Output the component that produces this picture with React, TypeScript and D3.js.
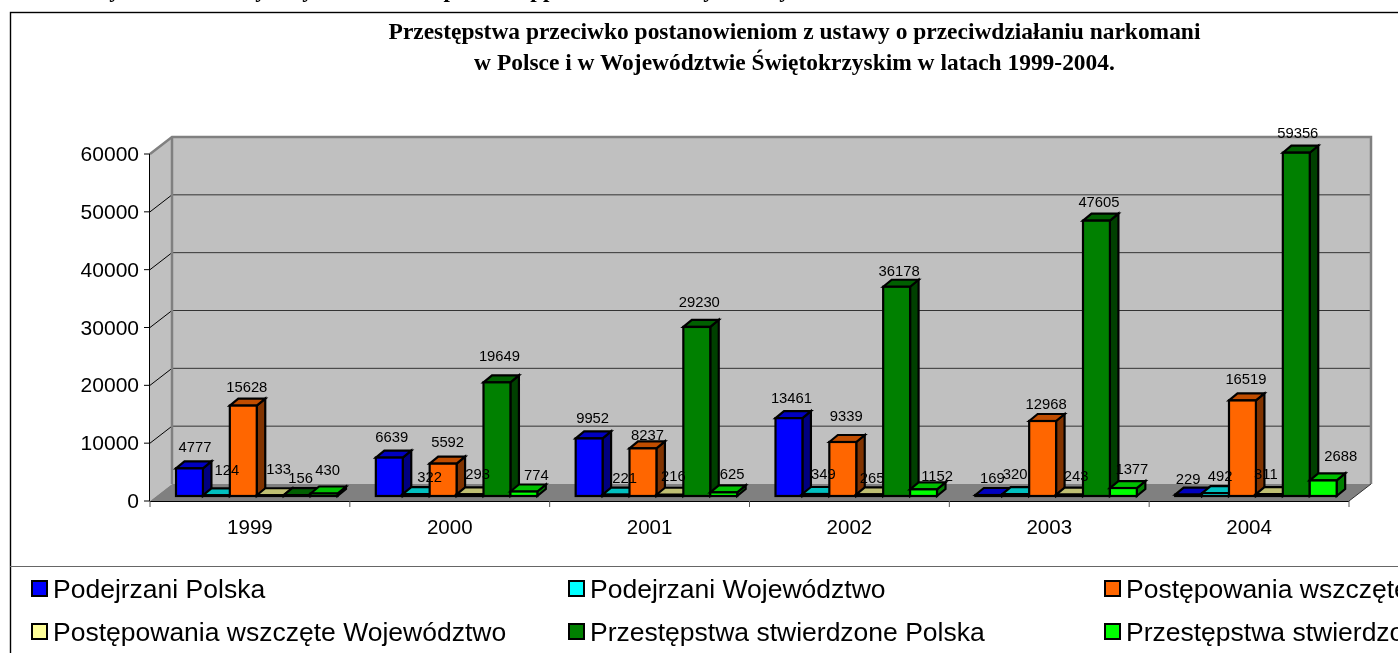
import React, { useEffect, useRef } from "react";
import * as d3 from "d3";

const years = ["1999", "2000", "2001", "2002", "2003", "2004"];
const seriesNames = [
  "Podejrzani Polska",
  "Podejrzani Województwo",
  "Postępowania wszczęte Polska",
  "Postępowania wszczęte Województwo",
  "Przestępstwa stwierdzone Polska",
  "Przestępstwa stwierdzone Województwo",
];
const podejrzaniPolska = [4777, 6639, 9952, 13461, 169, 229];
const podejrzaniWoj = [124, 322, 221, 349, 320, 492];
const postepowaniaPolska = [15628, 5592, 8237, 9339, 12968, 16519];
const postepowaniaWoj = [133, 293, 216, 265, 243, 311];
const przestepstwaPolska = [156, 19649, 29230, 36178, 47605, 59356];
const przestepstwaWoj = [430, 774, 625, 1152, 1377, 2688];
const allSeries = [podejrzaniPolska, podejrzaniWoj, postepowaniaPolska, postepowaniaWoj, przestepstwaPolska, przestepstwaWoj];
const yTicks = [0, 10000, 20000, 30000, 40000, 50000, 60000];
const titleLines = [
  "Przestępstwa przeciwko postanowieniom z ustawy o przeciwdziałaniu narkomani",
  "w Polsce i w Województwie Świętokrzyskim w latach 1999-2004.",
];
const frontColors = ["#0000ff", "#00ffff", "#ff6600", "#ffff99", "#008000", "#00ff00"];
const topColors = ["#0000c0", "#00c0c0", "#c04d00", "#c0c073", "#006000", "#00c000"];
const sideColors = ["#000080", "#008080", "#803300", "#80804d", "#004000", "#008000"];

// hand-placed data label shifts of the original chart [dx, dy] per series / year
const labelDx = [
  [5.5, 2.5, 3.5, 2.5, 3.5, -0.5],
  [10.5, 13.5, 8.5, 7.5, -0.5, 4.5],
  [3.5, 4.5, 4.5, 3.5, 3.5, 3.5],
  [8.5, 7.5, 3.5, 2.5, 6.5, -3.5],
  [3.5, 2.5, 2.5, 2.5, 2.5, 1.5],
  [3.5, 12.5, 8.5, 13.5, 8.5, 17.5],
];
const labelDy = [
  [-16, -16, -15, -15, -12, -11],
  [-20, -12, -12, -15, -15, -12],
  [-14, -17, -8, -21, -12, -16],
  [-21, -15, -14, -11.5, -14, -15],
  [-12, -21, -20, -11, -14, -15],
  [-18.5, -11.5, -13.4, -8.3, -14, -19.5],
];
// descenders of the document line that the crop cuts off at the very top
const clippedGlyphs = ["y", "y", "y", "p", "pp", "y", "y"];
const clippedGlyphX = [115, 261, 308, 450, 543, 709, 785];

const SANS = "'Liberation Sans', Arial, sans-serif";
const SERIF = "'Liberation Serif', 'Times New Roman', serif";

export default function App() {
  const ref = useRef<SVGSVGElement | null>(null);
  useEffect(() => {
    const svg = d3.select(ref.current);
    svg.selectAll("*").remove();
    const W = 1398, H = 653;
    const x0 = 150, x1 = 1349, yBase = 501, yTop = 154;
    const wallDx = 22, wallDy = -17;
    const barLift = -5;
    const barDx = 8.5, barDy = -7;

    svg.append("rect").attr("width", W).attr("height", H).attr("fill", "#fff");
    clippedGlyphs.forEach((g, i) => {
      svg.append("text").text(g).attr("x", clippedGlyphX[i]).attr("y", -3)
        .attr("text-anchor", "middle").attr("font-family", SERIF)
        .attr("font-weight", "bold").attr("font-size", 23).attr("fill", "#000");
    });
    svg.append("rect").attr("x", 10.5).attr("y", 12.5).attr("width", W + 20).attr("height", H + 20)
      .attr("fill", "#fff").attr("stroke", "#000").attr("stroke-width", 1.4);

    const y = d3.scaleLinear().domain([0, 60000]).range([yBase, yTop]);
    const xGroup = d3.scaleBand<string>().domain(years).range([x0, x1]);
    const xSeries = d3.scaleBand<number>().domain(d3.range(6)).range([26, 187.5]);
    const poly = (pts: [number, number][]) => pts.map((p) => p.join(",")).join(" ");

    // title
    titleLines.forEach((t, i) => {
      svg.append("text").text(t).attr("x", 794.5).attr("y", 39 + i * 31)
        .attr("text-anchor", "middle").attr("font-family", SERIF)
        .attr("font-weight", "bold").attr("font-size", 23.45).attr("fill", "#000");
    });

    // walls and floor
    svg.append("polygon")
      .attr("points", poly([[x0, yBase], [x0 + wallDx, yBase + wallDy], [x0 + wallDx, yTop + wallDy], [x0, yTop]]))
      .attr("fill", "#c0c0c0");
    svg.append("rect").attr("x", x0 + wallDx).attr("y", yTop + wallDy)
      .attr("width", x1 - x0).attr("height", yBase - yTop).attr("fill", "#c0c0c0");
    svg.append("polygon")
      .attr("points", poly([[x0, yBase], [x1, yBase], [x1 + wallDx, yBase + wallDy], [x0 + wallDx, yBase + wallDy]]))
      .attr("fill", "#808080");

    // gridlines
    yTicks.slice(1, 6).forEach((t) => {
      svg.append("line").attr("x1", x0 + wallDx).attr("x2", x1 + wallDx)
        .attr("y1", y(t) + wallDy).attr("y2", y(t) + wallDy).attr("stroke", "#333").attr("stroke-width", 1);
      svg.append("line").attr("x1", x0).attr("x2", x0 + wallDx)
        .attr("y1", y(t)).attr("y2", y(t) + wallDy).attr("stroke", "#000").attr("stroke-width", 1);
    });
    // wall edges
    svg.append("polyline")
      .attr("points", poly([[x0, yTop], [x0 + wallDx, yTop + wallDy], [x1 + wallDx, yTop + wallDy], [x1 + wallDx, yBase + wallDy]]))
      .attr("fill", "none").attr("stroke", "#808080").attr("stroke-width", 2.5);
    svg.append("line").attr("x1", x0 + wallDx).attr("x2", x0 + wallDx)
      .attr("y1", yTop + wallDy).attr("y2", yBase + wallDy).attr("stroke", "#808080").attr("stroke-width", 2.5);
    svg.append("line").attr("x1", x1).attr("x2", x1 + wallDx)
      .attr("y1", yBase).attr("y2", yBase + wallDy).attr("stroke", "#333").attr("stroke-width", 1);

    // axes
    svg.append("line").attr("x1", x0 - 0.5).attr("x2", x0 - 0.5).attr("y1", yTop).attr("y2", yBase)
      .attr("stroke", "#000").attr("stroke-width", 1);
    svg.append("line").attr("x1", x0).attr("x2", x1).attr("y1", yBase + 0.5).attr("y2", yBase + 0.5)
      .attr("stroke", "#000").attr("stroke-width", 1);
    yTicks.forEach((t) => {
      svg.append("line").attr("x1", x0 - 6).attr("x2", x0).attr("y1", y(t)).attr("y2", y(t))
        .attr("stroke", "#000").attr("stroke-width", 1);
      svg.append("text").text(String(t)).attr("x", 139).attr("y", y(t) + 7)
        .attr("text-anchor", "end").attr("font-family", SANS).attr("font-size", 21).attr("fill", "#000");
    });
    const bw = xGroup.bandwidth();
    d3.range(7).forEach((i) => {
      const tx = x0 + i * bw;
      svg.append("line").attr("x1", tx).attr("x2", tx).attr("y1", yBase).attr("y2", yBase + 6)
        .attr("stroke", "#555").attr("stroke-width", 1);
    });
    years.forEach((yr) => {
      svg.append("text").text(yr).attr("x", (xGroup(yr) as number) + bw / 2).attr("y", 534)
        .attr("text-anchor", "middle").attr("font-family", SANS).attr("font-size", 20.5).attr("fill", "#000");
    });

    // bars
    const barW = xSeries.bandwidth();
    years.forEach((yr, yi) => {
      allSeries.forEach((vals, si) => {
        const left = (xGroup(yr) as number) + (xSeries(si) as number);
        const right = left + barW;
        const top = y(vals[yi]) + barLift;
        const bot = yBase + barLift;
        const g = svg.append("g").attr("stroke", "#000").attr("stroke-width", 2.2).attr("stroke-linejoin", "miter");
        g.append("polygon").attr("points", poly([[right, top], [right + barDx, top + barDy], [right + barDx, bot + barDy], [right, bot]])).attr("fill", sideColors[si]);
        g.append("polygon").attr("points", poly([[left, top], [left + barDx, top + barDy], [right + barDx, top + barDy], [right, top]])).attr("fill", topColors[si]);
        g.append("rect").attr("x", left).attr("y", top).attr("width", barW).attr("height", bot - top).attr("fill", frontColors[si]);
      });
    });

    // data labels
    years.forEach((yr, yi) => {
      allSeries.forEach((vals, si) => {
        const cx = (xGroup(yr) as number) + (xSeries(si) as number) + barW / 2 + labelDx[si][yi];
        const ty = y(vals[yi]) + barLift + labelDy[si][yi];
        svg.append("text").text(String(vals[yi])).attr("x", cx).attr("y", ty)
          .attr("text-anchor", "middle").attr("font-family", SANS).attr("font-size", 14.8).attr("fill", "#000");
      });
    });

    // legend
    svg.append("line").attr("x1", 10).attr("x2", W).attr("y1", 566.5).attr("y2", 566.5).attr("stroke", "#666").attr("stroke-width", 1);
    const legX = [31, 568, 1104];
    const legY = [580, 623];
    seriesNames.forEach((name, i) => {
      const lx = legX[i % 3];
      const ly = legY[Math.floor(i / 3)];
      svg.append("rect").attr("x", lx + 1).attr("y", ly + 1).attr("width", 15).attr("height", 15)
        .attr("fill", frontColors[i]).attr("stroke", "#000").attr("stroke-width", 2);
      svg.append("text").text(name).attr("x", lx + 22).attr("y", ly + 18)
        .attr("font-family", SANS).attr("font-size", 26.5).attr("fill", "#000");
    });
  }, []);
  return (
    <svg ref={ref} width={1398} height={653} style={{ position: "fixed", left: 0, top: 0, display: "block" }} />
  );
}
